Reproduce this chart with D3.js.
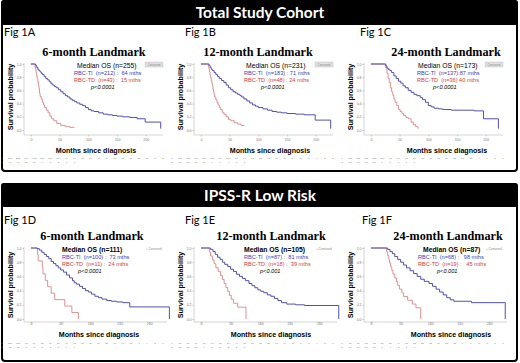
<!DOCTYPE html>
<html>
<head>
<meta charset="utf-8">
<script src="https://d3js.org/d3.v7.min.js"></script>
<style>
  body { margin: 0; background: #fff; }
  text { font-family: "Liberation Sans", Arial, sans-serif; }
</style>
</head>
<body>
<script>
// ---- data ----
var cohorts = ["Total Study Cohort", "IPSS-R Low Risk"];
var figIds = ["Fig 1A", "Fig 1B", "Fig 1C", "Fig 1D", "Fig 1E", "Fig 1F"];
var landmarks = ["6-month Landmark", "12-month Landmark", "24-month Landmark",
                 "6-month Landmark", "12-month Landmark", "24-month Landmark"];
var medianHeads = ["Median OS (n=255)", "Median OS (n=231)", "Median OS (n=173)",
                   "Median OS (n=111)", "Median OS (n=105)", "Median OS (n=87)"];
var tiLabels = ["RBC-TI  (n=212) :  64 mths", "RBC-TI  (n=183) : 71 mths", "RBC-TI  (n=137):87 mths",
                "RBC-TI  (n=100) :  73 mths", "RBC-TI  (n=87) :  81 mths", "RBC-TI  (n=68) :   98 mths"];
var tdLabels = ["RBC-TD  (n=43) :  15 mths", "RBC-TD  (n=48) : 24 mths", "RBC-TD  (n=36) 40 mths",
                "RBC-TD  (n=11) :  24 mths", "RBC-TD  (n=18) :  39 mths", "RBC-TD  (n=19) :   45 mths"];
var pLabels = ["p<0.0001", "p<0.0001", "p<0.0001", "p<0.0001", "p<0.001", "p<0.001"];

var xTicks = [0, 50, 100, 150, 200];
var yTicks = [0, 0.2, 0.4, 0.6, 0.8, 1.0];

// [months, survival]
var tiCurves = [
  [[0,1],[6,1],[8,0.98],[10,0.95],[12,0.92],[14,0.9],[16,0.88],[18,0.86],[20,0.84],[23,0.81],[26,0.78],[29,0.76],[32,0.73],[35,0.7],[38,0.68],[41,0.66],[44,0.64],[48,0.61],[52,0.58],[56,0.55],[60,0.52],[64,0.5],[68,0.47],[72,0.45],[76,0.43],[80,0.41],[85,0.39],[90,0.37],[95,0.34],[100,0.31],[105,0.29],[110,0.28],[118,0.26],[126,0.24],[134,0.23],[142,0.22],[150,0.21],[160,0.2],[172,0.19],[185,0.17],[199,0.12],[226,0.02]],
  [[0,1],[12,1],[14,0.98],[16,0.95],[18,0.92],[20,0.9],[23,0.87],[26,0.84],[29,0.81],[32,0.78],[36,0.75],[40,0.72],[44,0.68],[48,0.64],[52,0.61],[56,0.58],[60,0.56],[64,0.54],[68,0.52],[71,0.5],[75,0.47],[80,0.44],[85,0.41],[90,0.38],[95,0.36],[100,0.34],[108,0.32],[116,0.3],[124,0.28],[132,0.27],[140,0.26],[150,0.25],[165,0.24],[180,0.23],[199,0.15],[226,0.02]],
  [[0,1],[24,1],[26,0.97],[28,0.94],[30,0.92],[33,0.9],[36,0.87],[40,0.82],[44,0.78],[48,0.74],[52,0.71],[56,0.67],[60,0.64],[65,0.6],[70,0.57],[75,0.54],[80,0.52],[86,0.49],[90,0.46],[95,0.42],[100,0.37],[105,0.35],[110,0.33],[118,0.32],[125,0.31],[140,0.3],[160,0.3],[180,0.29],[196,0.17],[222,0.02]],
  [[0,1],[6,1],[10,0.99],[14,0.97],[18,0.94],[22,0.91],[26,0.88],[30,0.85],[34,0.81],[38,0.78],[42,0.75],[46,0.72],[50,0.69],[55,0.66],[60,0.62],[65,0.58],[70,0.54],[73,0.51],[77,0.49],[82,0.46],[87,0.43],[92,0.4],[97,0.38],[102,0.35],[108,0.32],[114,0.3],[120,0.28],[128,0.26],[136,0.25],[145,0.24],[155,0.23],[167,0.17],[234,0]],
  [[0,1],[12,1],[16,0.98],[20,0.95],[24,0.91],[28,0.87],[32,0.84],[36,0.8],[40,0.77],[45,0.74],[50,0.7],[55,0.67],[60,0.63],[65,0.6],[70,0.57],[75,0.54],[81,0.5],[86,0.47],[91,0.44],[96,0.41],[101,0.39],[106,0.37],[112,0.34],[118,0.32],[124,0.29],[130,0.26],[136,0.23],[145,0.21],[160,0.2],[175,0.19],[233,0]],
  [[0,1],[24,1],[28,0.98],[32,0.95],[36,0.92],[40,0.88],[45,0.84],[50,0.8],[55,0.76],[60,0.72],[66,0.68],[72,0.64],[78,0.6],[84,0.56],[90,0.53],[98,0.5],[104,0.46],[110,0.42],[116,0.38],[122,0.34],[128,0.3],[134,0.27],[140,0.25],[170,0.23],[227,0]]
];
var tdCurves = [
  [[0,1],[6,1],[7,0.96],[8,0.92],[9,0.87],[10,0.82],[11,0.78],[12,0.73],[13,0.68],[14,0.63],[15,0.56],[16,0.51],[18,0.47],[20,0.42],[22,0.38],[24,0.34],[27,0.3],[30,0.26],[33,0.21],[36,0.17],[40,0.14],[45,0.1],[52,0.07],[60,0.05],[68,0.04],[76,0.04]],
  [[0,1],[12,1],[13,0.96],[14,0.92],[15,0.88],[16,0.83],[17,0.79],[18,0.75],[19,0.71],[20,0.67],[21,0.62],[22,0.58],[23,0.54],[24,0.5],[26,0.46],[28,0.42],[30,0.38],[32,0.34],[34,0.31],[37,0.27],[40,0.24],[44,0.2],[48,0.16],[52,0.14],[58,0.11],[64,0.09],[70,0.07],[76,0.07]],
  [[0,1],[24,1],[25,0.97],[26,0.94],[28,0.86],[30,0.78],[32,0.72],[34,0.64],[36,0.58],[38,0.53],[40,0.47],[42,0.42],[45,0.37],[48,0.31],[51,0.28],[54,0.25],[57,0.22],[61,0.19],[65,0.17],[70,0.12],[74,0.08],[78,0.05],[82,0.02]],
  [[0,1],[6,1],[11,0.909],[12,0.818],[19,0.727],[20,0.636],[24,0.545],[28,0.455],[34,0.364],[40,0.273],[57,0.182],[69,0.091],[80,0]],
  [[0,1],[12,1],[14,0.944],[16,0.889],[19,0.833],[22,0.778],[25,0.722],[29,0.667],[33,0.611],[36,0.556],[39,0.5],[42,0.444],[45,0.389],[48,0.333],[51,0.278],[55,0.222],[62,0.167],[76,0]],
  [[0,1],[24,1],[26,0.947],[28,0.895],[30,0.842],[31,0.789],[33,0.737],[35,0.684],[37,0.632],[40,0.579],[43,0.526],[45,0.474],[48,0.421],[52,0.368],[55,0.316],[62,0.263],[70,0.211],[76,0.158],[84,0]]
];

// numbers at risk (every 12 months)
var riskTI = [
  [212,212,196,172,150,131,114,99,84,71,59,49,40,33,27,21,15,10,6,2],
  [183,183,170,150,131,114,100,87,74,62,52,43,36,30,24,19,14,9,5,2],
  [137,137,137,122,106,92,80,68,57,48,40,33,27,22,17,13,9,6,3,1],
  [100,100,93,84,75,66,57,49,42,35,29,24,20,16,13,10,7,4,2,1],
  [87,87,84,76,67,59,51,44,37,31,26,21,17,14,11,8,6,4,2,1],
  [68,68,68,62,56,50,44,38,33,28,23,19,15,12,9,7,5,3,2,1]
];
var riskTD = [
  [43,43,20,11,6,3,2,1,1],
  [48,48,34,17,9,6,4,3,1],
  [36,36,36,20,9,5,3,1,0],
  [11,11,8,5,3,2,1,1,0],
  [18,18,15,9,5,3,2,1,0],
  [19,19,19,10,6,4,2,1,0]
];

// ---- layout ----
var W = 520, H = 363;
var colX = [0, 170, 340];
var rows = [
  {banner: 0, bannerH: 25, boxBot: 171, fig: 36, title: 56, top: 63, bot: 135, y1: 64, y0: 130, xr: [24, 163],
   med: 67.5, ti: 74.5, td: 81.5, p: 89, tick: 141.5, xlab: 153, r1: 159, r2: 162.5, ylab: 97},
  {banner: 183, bannerH: 24, boxBot: 361, fig: 224, title: 240, top: 247, bot: 322, y1: 248, y0: 319, xr: [24, 167],
   med: 252, ti: 259, td: 265.5, p: 273, tick: 325.5, xlab: 337, r1: 343.5, r2: 348, ylab: 285}
];
var figX = [4, 15, 20, 4, 15, 22];
var titleX = [94, 88, 106, 92, 101, 108];
var xlabX = [96, 100, 107, 99, 101, 111];
var medX = [77, 76, 78, 62, 74, 83];
var tiX = [74, 74, 77, 62, 74, 78];
var pX = [91, 91, 93, 78, 90, 97];

var blue = "#5050b4", red = "#e08585";

var svg = d3.select("body").append("svg")
    .attr("width", W)
    .attr("height", H);

rows.forEach(function(r, ri) {
  svg.append("rect")
      .attr("x", 2).attr("y", r.banner + 1)
      .attr("width", 515).attr("height", r.boxBot - r.banner - 1)
      .attr("rx", 3)
      .attr("fill", "#fff")
      .attr("stroke", "#000")
      .attr("stroke-width", 2);
  svg.append("rect")
      .attr("x", 1).attr("y", r.banner)
      .attr("width", 517).attr("height", r.bannerH)
      .attr("rx", 3)
      .attr("fill", "#000");
  svg.append("text")
      .attr("x", 260).attr("y", r.banner + r.bannerH / 2 + 5.5)
      .attr("text-anchor", "middle")
      .style("font-family", "Lato, 'Open Sans', sans-serif")
      .style("font-weight", "bold")
      .style("font-size", "15.5px")
      .attr("fill", "#fff")
      .text(cohorts[ri]);
});

var line = d3.line().curve(d3.curveStepAfter);

for (var i = 0; i < 6; i++) {
  var r = rows[Math.floor(i / 3)];
  var ox = colX[i % 3];
  var g = svg.append("g").attr("transform", "translate(" + ox + ",0)");

  var x = d3.scaleLinear().domain([-12, 230]).range(r.xr);
  var y = d3.scaleLinear().domain([0, 1]).range([r.y0, r.y1]);

  g.append("text")
      .attr("x", figX[i]).attr("y", r.fig)
      .style("font-family", "Lato, 'Open Sans', sans-serif")
      .style("font-size", "11px")
      .text(figIds[i]);

  g.append("text")
      .attr("x", titleX[i]).attr("y", r.title)
      .attr("text-anchor", "middle")
      .style("font-family", "'Liberation Serif', 'Times New Roman', serif")
      .style("font-weight", "bold")
      .style("font-size", "12.2px")
      .text(landmarks[i]);

  // frame
  g.append("line")
      .attr("x1", r.xr[0]).attr("x2", r.xr[0])
      .attr("y1", r.top).attr("y2", r.bot)
      .attr("stroke", "#b8b8b8").attr("stroke-width", 0.6);
  g.append("line")
      .attr("x1", r.xr[0]).attr("x2", r.xr[1])
      .attr("y1", r.bot).attr("y2", r.bot)
      .attr("stroke", "#b8b8b8").attr("stroke-width", 0.6);

  var ya = g.append("g")
      .attr("transform", "translate(" + r.xr[0] + ",0)")
      .call(d3.axisLeft(y).tickValues(yTicks).tickSize(1.5).tickFormat(d3.format(".1f")));
  ya.select(".domain").remove();
  ya.selectAll("line").attr("stroke", "#999").attr("stroke-width", 0.5);
  ya.selectAll("text").attr("fill", "#777").style("font-size", "3.5px").attr("x", -2.5);

  var xa = g.append("g")
      .attr("transform", "translate(0," + r.bot + ")")
      .call(d3.axisBottom(x).tickValues(xTicks).tickSize(1.5));
  xa.select(".domain").remove();
  xa.selectAll("line").attr("stroke", "#999").attr("stroke-width", 0.5);
  xa.selectAll("text").attr("fill", "#777").style("font-size", "3.5px").attr("y", r.tick - r.bot - 2.5);

  g.append("text")
      .attr("transform", "translate(13," + r.ylab + ") rotate(-90)")
      .attr("text-anchor", "middle")
      .style("font-weight", "bold")
      .style("font-size", "7.2px")
      .text("Survival probability");

  g.append("text")
      .attr("x", xlabX[i]).attr("y", r.xlab)
      .attr("text-anchor", "middle")
      .style("font-weight", "bold")
      .style("font-size", "7.1px")
      .text("Months since diagnosis");

  // curves
  g.append("path")
      .attr("d", line(tdCurves[i].map(function(d) { return [x(d[0]), y(d[1])]; })))
      .attr("fill", "none").attr("stroke", red).attr("stroke-width", 0.9);
  g.append("path")
      .attr("d", line(tiCurves[i].map(function(d) { return [x(d[0]), y(d[1])]; })))
      .attr("fill", "none").attr("stroke", blue).attr("stroke-width", 1);

  // legend
  g.append("text")
      .attr("x", medX[i]).attr("y", r.med)
      .style("font-size", "6.8px")
      .style("font-weight", i < 3 ? "normal" : "bold")
      .text(medianHeads[i]);
  g.append("text")
      .attr("x", tiX[i]).attr("y", r.ti)
      .style("white-space", "pre")
      .style("font-size", "5.6px")
      .attr("fill", "#3b3bc0")
      .text(tiLabels[i]);
  g.append("text")
      .attr("x", tiX[i]).attr("y", r.td)
      .style("white-space", "pre")
      .style("font-size", "5.6px")
      .attr("fill", "#e03a3a")
      .text(tdLabels[i]);
  g.append("text")
      .attr("x", pX[i]).attr("y", r.p)
      .style("font-size", "5.6px")
      .style("font-style", "italic")
      .text(pLabels[i]);

  if (i < 3) {
    g.append("rect")
        .attr("x", 145).attr("y", r.top - 1)
        .attr("width", 18).attr("height", 5)
        .attr("fill", "#e2e2e2").attr("stroke", "#bbb").attr("stroke-width", 0.4);
    g.append("text")
        .attr("x", 154).attr("y", r.top + 2.6)
        .attr("text-anchor", "middle")
        .attr("fill", "#888")
        .style("font-size", "3px")
        .text("Censored");
  } else {
    g.append("text")
        .attr("x", 146).attr("y", r.top + 2.5)
        .attr("fill", "#888")
        .style("font-size", "3px")
        .text("+ Censored");
  }

  // numbers at risk
  var rx = function(k) { return 2 + k * 8.05; };
  [[riskTI[i], r.r1, "1"], [riskTD[i], r.r2, "2"]].forEach(function(row) {
    var vals = [row[2]].concat(row[0]);
    g.append("g").selectAll("text")
      .data(vals)
      .enter().append("text")
        .attr("x", function(d, k) { return rx(k); })
        .attr("y", row[1])
        .attr("text-anchor", "middle")
        .attr("fill", "#777")
        .style("font-size", "2.5px")
        .text(function(d) { return d; });
  });
}
</script>
</body>
</html>
